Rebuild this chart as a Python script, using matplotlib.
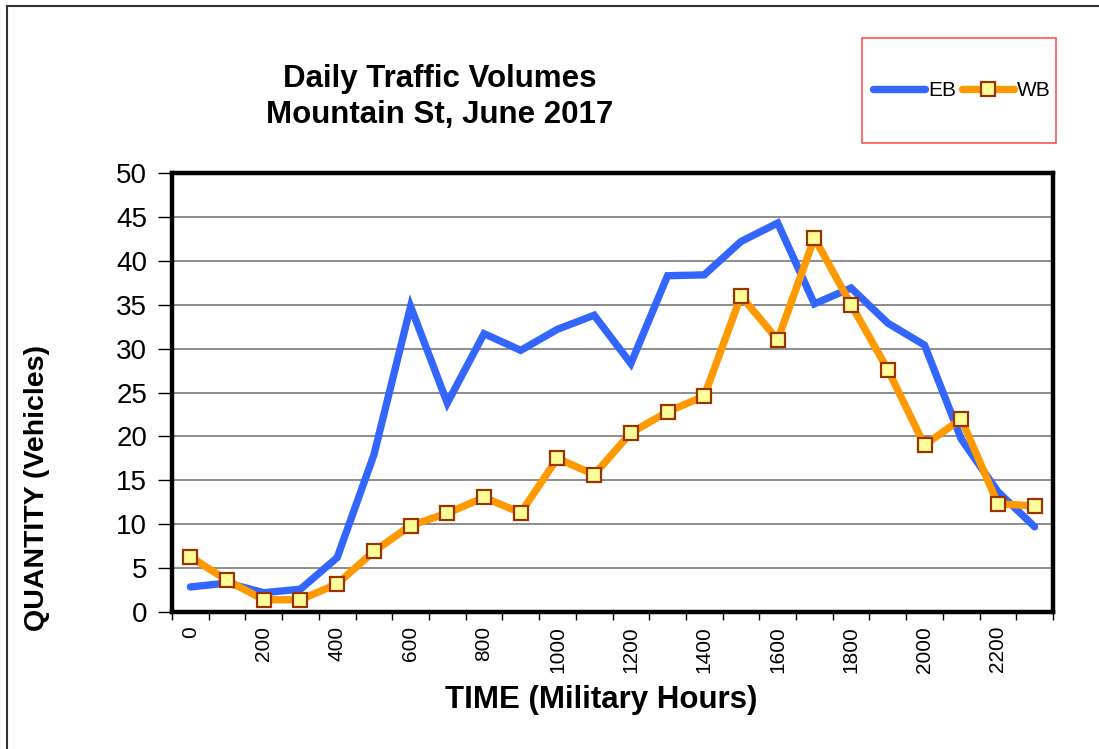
import matplotlib
matplotlib.use("Agg")
import matplotlib.pyplot as plt
from matplotlib.patches import Rectangle
from matplotlib.lines import Line2D
import numpy as np

plt.rcParams['font.family'] = ['Liberation Sans', 'DejaVu Sans']

hours = [0, 100, 200, 300, 400, 500, 600, 700, 800, 900, 1000, 1100,
         1200, 1300, 1400, 1500, 1600, 1700, 1800, 1900, 2000, 2100, 2200, 2300]
eb = [2.85, 3.3, 2.2, 2.6, 6.2, 17.9, 34.8, 23.8, 31.7, 29.8, 32.2, 33.8,
      28.3, 38.3, 38.4, 42.2, 44.3, 35.1, 36.9, 32.9, 30.4, 19.7, 13.7, 9.7]
wb = [6.3, 3.6, 1.4, 1.4, 3.2, 6.9, 9.85, 11.25, 13.05, 11.3, 17.5, 15.65,
      20.4, 22.8, 24.6, 36.0, 31.0, 42.6, 35.0, 27.6, 19.0, 22.0, 12.3, 12.1]
yticks = [0, 5, 10, 15, 20, 25, 30, 35, 40, 45, 50]

W, H = 1099, 749
fig = plt.figure(figsize=(W / 100, H / 100), dpi=100)
fig.patch.set_facecolor('white')

# figure border (left and top)
fig.add_artist(Line2D([7 / W, 7 / W], [0, 1 - 6 / H], transform=fig.transFigure,
                      color='#333333', lw=1.5))
fig.add_artist(Line2D([7 / W, 1], [1 - 6 / H, 1 - 6 / H], transform=fig.transFigure,
                      color='#333333', lw=1.5))

ax = fig.add_axes([172 / W, 1 - 612 / H, (1053 - 172) / W, (612 - 173) / H])

x = np.arange(len(hours)) + 0.5
ax.set_xlim(0, len(hours))
ax.set_ylim(0, 50)

for yv in yticks[1:-1]:
    ax.axhline(yv, color='#6e6e6e', lw=1.1, zorder=1)

ax.plot(x, eb, color='#3366FF', lw=5.3, solid_capstyle='round',
        solid_joinstyle='miter', zorder=3, label='EB')
ax.plot(x, wb, color='#FF9900', lw=5.3, solid_capstyle='round',
        solid_joinstyle='miter', marker='s', markersize=9.5,
        markerfacecolor='#FFFF99', markeredgecolor='#993300',
        markeredgewidth=1.6, zorder=4, label='WB')

for s in ax.spines.values():
    s.set_linewidth(3.2)
    s.set_color('black')
    s.set_zorder(5)

ax.set_yticks(yticks)
ax.set_yticklabels([str(v) for v in yticks], fontsize=20)
ax.tick_params(axis='y', length=10, width=1, pad=8, direction='out')

ax.set_xticks(np.arange(0, len(hours) + 1))
ax.set_xticklabels([])
ax.tick_params(axis='x', which='major', length=6, width=1, direction='out')
ax.set_xticks(x[::2], minor=True)
ax.set_xticklabels([str(h) for h in hours[::2]], minor=True, rotation=90,
                   fontsize=15)
ax.tick_params(axis='x', which='minor', length=0, pad=10)

fig.text(37 / W, 1 - 488 / H, 'QUANTITY (Vehicles)', rotation=90,
         ha='center', va='center', fontsize=20.5, fontweight='bold')
fig.text(601 / W, 1 - 700 / H, 'TIME (Military Hours)', ha='center',
         va='center', fontsize=22.5, fontweight='bold')
fig.text(440 / W, 1 - 97 / H, 'Daily Traffic Volumes\nMountain St, June 2017',
         ha='center', va='center', fontsize=22.5, fontweight='bold',
         linespacing=1.25)

# legend box
fig.add_artist(Rectangle((862 / W, 1 - 143 / H), (1056 - 862) / W, (143 - 38) / H,
                         transform=fig.transFigure, fill=False,
                         edgecolor='#FF5555', lw=1.2))
leg = fig.legend(loc='center', bbox_to_anchor=(962 / W, 1 - 91 / H), ncol=2,
                 frameon=False, fontsize=15, handlelength=2.5,
                 handletextpad=0.15, columnspacing=0.25, borderpad=0)

fig.savefig('out.png', dpi=100)
